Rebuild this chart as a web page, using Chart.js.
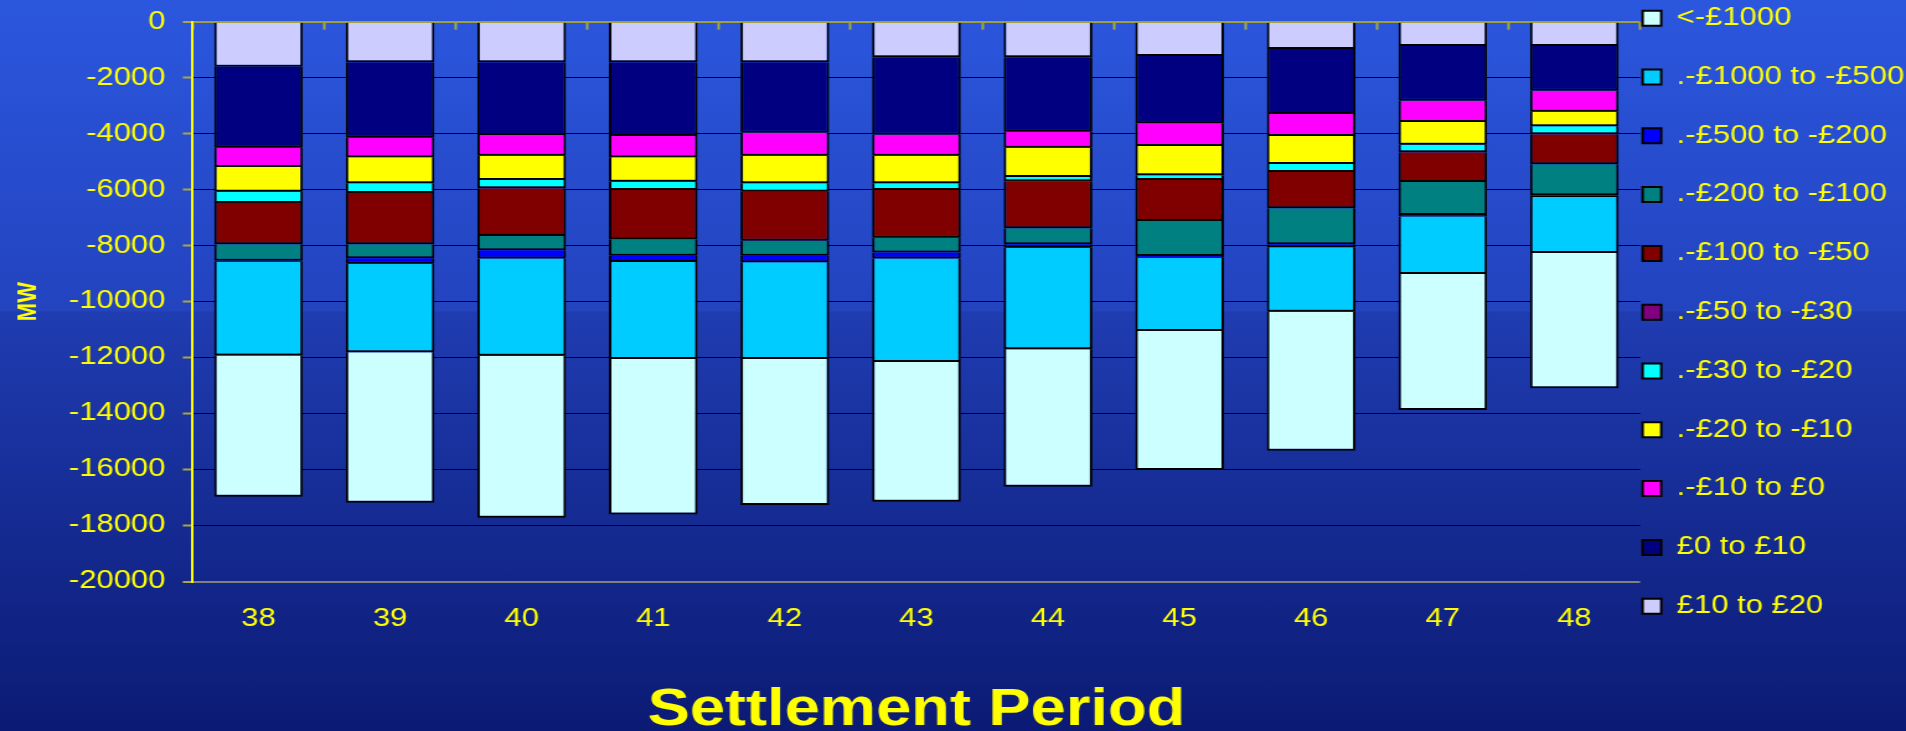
<!DOCTYPE html>
<html>
<head>
<meta charset="utf-8">
<script src="https://cdn.jsdelivr.net/npm/chart.js@4.4.1/dist/chart.umd.min.js"></script>
<style>
  html, body { margin: 0; padding: 0; width: 1906px; height: 731px; overflow: hidden; }
  body { background: linear-gradient(to bottom, #2b57de 0px, #2343bf 311px, #1f3cb1 312px, #0b1a74 731px); }
  /* the original slide stretched the chart sideways, so draw narrower and scale it out */
  #wrap { position: absolute; left: 0; top: 0; width: 1537px; height: 731px; transform: scaleX(1.24008); transform-origin: 0 0; }
</style>
</head>
<body>
<div id="wrap"><canvas id="chart"></canvas></div>
<script>
const periods = ["38", "39", "40", "41", "42", "43", "44", "45", "46", "47", "48"];

// MW per price band, top of the stack (nearest zero) first
const tenToTwenty     = [-1607, -1451, -1451, -1451, -1451, -1273, -1273, -1225, -975, -868, -868];
const zeroToTen       = [-2895, -2693, -2598, -2634, -2515, -2764, -2657, -2405, -2322, -1954, -1597];
const minusTenToZero  = [-690, -701, -738, -760, -821, -750, -571, -811, -788, -761, -750];
const minus20To10     = [-883, -930, -869, -872, -988, -988, -1048, -1048, -1000, -811, -521];
const minus30To20     = [-404, -346, -298, -296, -299, -238, -155, -167, -285, -274, -286];
const minus50To30     = [0, 0, 0, 0, 0, 0, 0, 0, 0, 0, 0];
const minus100To50    = [-1475, -1832, -1702, -1762, -1748, -1702, -1678, -1464, -1298, -1059, -1071];
const minus200To100   = [-586, -500, -510, -585, -538, -535, -571, -1250, -1285, -1180, -1107];
const minus500To200   = [-40, -192, -298, -224, -236, -214, -119, -60, -107, -50, -60];
const minus1000To500  = [-3350, -3166, -3468, -3466, -3454, -3693, -3633, -2620, -2299, -2058, -2005];
const belowMinus1000  = [-5040, -5373, -5790, -5553, -5217, -4991, -4909, -4965, -4967, -4858, -4833];

const yTicks = [0, -2000, -4000, -6000, -8000, -10000, -12000, -14000, -16000, -18000, -20000];

const bands = [
  { label: "£10 to £20",        data: tenToTwenty,    color: "#ccccff" },
  { label: "£0 to £10",         data: zeroToTen,      color: "#000080" },
  { label: ".-£10 to £0",       data: minusTenToZero, color: "#ff00ff" },
  { label: ".-£20 to -£10",     data: minus20To10,    color: "#ffff00" },
  { label: ".-£30 to -£20",     data: minus30To20,    color: "#00ffff" },
  { label: ".-£50 to -£30",     data: minus50To30,    color: "#800080" },
  { label: ".-£100 to -£50",    data: minus100To50,   color: "#800000" },
  { label: ".-£200 to -£100",   data: minus200To100,  color: "#008080" },
  { label: ".-£500 to -£200",   data: minus500To200,  color: "#0000ff" },
  { label: ".-£1000 to -£500",  data: minus1000To500, color: "#00ccff" },
  { label: "<-£1000",           data: belowMinus1000, color: "#ccffff" }
];

const FONT = '"Liberation Sans", Arial, sans-serif';
const YELLOW = "#ffff00";
const TICK = "#a8a83c";

const datasets = bands.map(b => ({
  label: b.label,
  data: b.data,
  backgroundColor: b.color,
  borderColor: "#000000",
  borderWidth: 2,
  categoryPercentage: 1,
  barPercentage: 0.674
}));

new Chart(document.getElementById("chart"), {
  type: "bar",
  data: { labels: periods, datasets: datasets },
  options: {
    responsive: true,
    maintainAspectRatio: false,
    animation: false,
    layout: { padding: { top: 3.7 } },
    plugins: {
      tooltip: { enabled: false },
      legend: {
        position: "right",
        align: "start",
        reverse: true,
        maxWidth: 214.4,
        labels: {
          color: YELLOW,
          boxWidth: 15,
          boxHeight: 15,
          padding: 2,
          font: { family: FONT, size: 25, lineHeight: 2.272 },
          // one-line arrays so each row uses the font line height as its spacing
          generateLabels: chart =>
            Chart.defaults.plugins.legend.labels.generateLabels(chart)
              .map(item => Object.assign(item, { text: [item.text] }))
        }
      }
    },
    scales: {
      x: {
        stacked: true,
        offset: true,
        grid: { display: false, drawTicks: false },
        border: { display: false },
        ticks: { color: YELLOW, padding: 22.5, maxRotation: 0, autoSkip: false, font: { family: FONT, size: 25 } },
        title: {
          display: true,
          text: "Settlement Period",
          color: YELLOW,
          font: { family: FONT, size: 51, weight: "bold", lineHeight: 0.8 },
          padding: { top: 33.7, bottom: 0 }
        }
      },
      // only there for the little tick marks hanging from the zero line
      x2: {
        type: "category",
        position: "top",
        offset: true,
        ticks: { display: false },
        grid: { offset: true, drawOnChartArea: false, drawTicks: true, tickLength: -8, tickColor: TICK, tickWidth: 2 },
        border: { display: false },
        afterFit: scale => { scale.height = 0; }
      },
      y: {
        stacked: true,
        min: yTicks[yTicks.length - 1],
        max: yTicks[0],
        afterBuildTicks: scale => { scale.ticks = yTicks.map(v => ({ value: v })); },
        ticks: { color: YELLOW, padding: 14, font: { family: FONT, size: 25 }, callback: v => String(v) },
        grid: {
          color: ctx => !ctx.tick ? "#000000" : ctx.tick.value === 0 ? "#9e9e3a" : ctx.tick.value === -20000 ? "#808080" : "#000000",
          lineWidth: ctx => ctx.tick && (ctx.tick.value === 0 || ctx.tick.value === -20000) ? 2 : 1,
          tickColor: TICK,
          tickLength: 8,
          tickWidth: 2
        },
        border: { display: true, color: YELLOW, width: 2 },
        title: {
          display: true,
          text: "MW",
          color: YELLOW,
          font: { family: FONT, size: 22, weight: "bold" },
          padding: { top: 10, bottom: 0 }
        },
        afterFit: scale => { scale.width = 155.4; scale.paddingTop = 21.7; }
      }
    }
  }
});
</script>
</body>
</html>
